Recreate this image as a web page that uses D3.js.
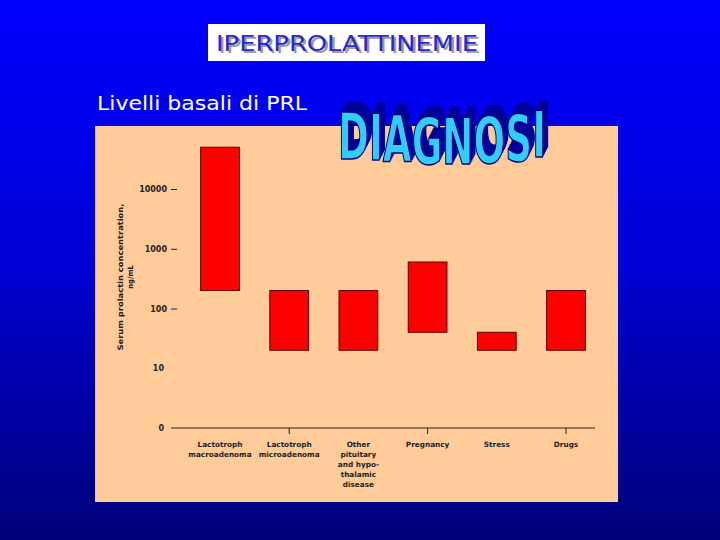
<!DOCTYPE html>
<html>
<head>
<meta charset="utf-8">
<script src="https://cdn.jsdelivr.net/npm/d3@7"></script>
<style>
    body { margin: 0; background: #000080; }
    svg { display: block; }
</style>
</head>
<body>
<div id="chart"></div>
<script>
/*
 * Slide "IPERPROLATTINEMIE": basal PRL ranges per cause (log scale),
 * floating bars from low to high value.
 */

// categories, split in label lines
var categories = ["Lactotroph macroadenoma", "Lactotroph microadenoma",
    "Other pituitary and hypothalamic disease", "Pregnancy", "Stress", "Drugs"];
var categoryLines = [
    ["Lactotroph", "macroadenoma"],
    ["Lactotroph", "microadenoma"],
    ["Other", "pituitary", "and hypo-", "thalamic", "disease"],
    ["Pregnancy"],
    ["Stress"],
    ["Drugs"]
];
// ng/mL, low and high end of each bar
var lowValues = [200, 20, 20, 40, 20, 20];
var highValues = [50000, 200, 200, 600, 40, 200];
// y ticks (the "0" is drawn one decade under 10)
var yTicks = [1, 10, 100, 1000, 10000];
var yTickLabels = ["0", "10", "100", "1000", "10000"];
var diagnosiLetters = ["D", "I", "A", "G", "N", "O", "S", "I"];
var diagnosiWave = [0, 1, 3, 5, 5, 4, 2, -2];

var width = 720, height = 540;

var svg = d3.select("#chart")
        .append("svg")
        .attr("width", width)
        .attr("height", height);

var defs = svg.append("defs");

// background gradient
var grad = defs.append("linearGradient")
        .attr("id", "bg")
        .attr("x1", 0).attr("y1", 0)
        .attr("x2", 0).attr("y2", 1);
grad.append("stop").attr("offset", "0").attr("stop-color", "#0000ff");
grad.append("stop").attr("offset", "0.48").attr("stop-color", "#0000d6");
grad.append("stop").attr("offset", "1").attr("stop-color", "#00007a");

// extrusion filter for the word art (dark copies shifted up-right)
var ext = defs.append("filter")
        .attr("id", "extrude")
        .attr("x", "-10%").attr("y", "-40%")
        .attr("width", "120%").attr("height", "160%");
ext.append("feFlood").attr("flood-color", "#00009a").attr("result", "dark");
ext.append("feComposite")
        .attr("in", "dark").attr("in2", "SourceAlpha")
        .attr("operator", "in").attr("result", "shape");
var offs = [[1, -2], [2, -4], [3, -6], [4, -8], [4.5, -10]];
offs.forEach(function (o, i) {
    ext.append("feOffset")
            .attr("in", "shape")
            .attr("dx", o[0]).attr("dy", o[1])
            .attr("result", "o" + i);
});
var merge = ext.append("feMerge");
offs.slice().reverse().forEach(function (o, i) {
    merge.append("feMergeNode").attr("in", "o" + (offs.length - 1 - i));
});
merge.append("feMergeNode").attr("in", "SourceGraphic");

svg.append("rect")
        .attr("width", width)
        .attr("height", height)
        .attr("fill", "url(#bg)");

// title box
svg.append("rect")
        .attr("x", 208)
        .attr("y", 24)
        .attr("width", 277)
        .attr("height", 37)
        .attr("fill", "#ffffff");
svg.append("text")
        .attr("x", 216)
        .attr("y", 51)
        .attr("textLength", 262)
        .attr("lengthAdjust", "spacingAndGlyphs")
        .attr("font-family", "DejaVu Sans")
        .attr("font-size", 22)
        .attr("fill", "#2828c8")
        .style("text-shadow", "2px 2px 0 #9999aa")
        .text("IPERPROLATTINEMIE");

// subtitle
svg.append("text")
        .attr("x", 97)
        .attr("y", 110)
        .attr("textLength", 210)
        .attr("lengthAdjust", "spacingAndGlyphs")
        .attr("font-family", "DejaVu Sans")
        .attr("font-size", 20)
        .attr("fill", "#ffffff")
        .text("Livelli basali di PRL");

// chart panel
svg.append("rect")
        .attr("x", 95)
        .attr("y", 126)
        .attr("width", 523)
        .attr("height", 376)
        .attr("fill", "#ffcc99");

// scales
var x = d3.scaleBand()
        .domain(categories)
        .range([185.4, 600.6])
        .paddingInner(0.44)
        .paddingOuter(0.22);
var y = d3.scaleLog()
        .domain([1, 10000])
        .range([428, 189]);

// y axis
var yAxis = svg.append("g")
        .attr("transform", "translate(177,0)")
        .call(d3.axisLeft(y)
                .tickValues(yTicks)
                .tickFormat(function (d, i) {
                    return yTickLabels[i];
                })
                .tickSize(6)
                .tickPadding(4));
yAxis.select(".domain").remove();
yAxis.selectAll(".tick line")
        .attr("stroke", "#222")
        .attr("display", function (d) {
            return d < 100 ? "none" : null;
        });
yAxis.selectAll(".tick text")
        .attr("font-family", "DejaVu Sans")
        .attr("font-weight", "bold")
        .attr("font-size", 8)
        .attr("fill", "#222")
        .attr("dx", function (d) {
            return d < 100 ? -3 : 0;
        });

// y title
var yTitle = svg.append("text")
        .attr("transform", "translate(123,277) rotate(-90)")
        .attr("text-anchor", "middle")
        .attr("font-family", "DejaVu Sans Condensed")
        .attr("font-weight", "bold")
        .attr("font-size", 7.5)
        .attr("fill", "#222");
yTitle.append("tspan")
        .attr("x", 0)
        .attr("y", 0)
        .attr("textLength", 147)
        .attr("lengthAdjust", "spacingAndGlyphs")
        .text("Serum prolactin concentration,");
yTitle.append("tspan")
        .attr("x", 0)
        .attr("y", 10)
        .text("ng/mL");

// x axis
svg.append("line")
        .attr("x1", 171)
        .attr("x2", 595)
        .attr("y1", 428)
        .attr("y2", 428)
        .attr("stroke", "#222")
        .attr("stroke-width", 1);
var xAxis = svg.append("g")
        .attr("transform", "translate(0,428)")
        .call(d3.axisBottom(x)
                .tickValues([categories[1], categories[3], categories[5]])
                .tickFormat("")
                .tickSize(6));
xAxis.select(".domain").remove();
xAxis.selectAll(".tick line").attr("stroke", "#222");

// category labels
var labels = svg.selectAll("text.cat")
        .data(categories)
        .enter()
        .append("text")
        .attr("class", "cat")
        .attr("text-anchor", "middle")
        .attr("font-family", "DejaVu Sans")
        .attr("font-weight", "bold")
        .attr("font-size", 7.3)
        .attr("fill", "#222");
labels.selectAll("tspan")
        .data(function (d, i) {
            return categoryLines[i].map(function (t) {
                return {cat: d, text: t};
            });
        })
        .enter()
        .append("tspan")
        .attr("x", function (d) {
            return x(d.cat) + x.bandwidth() / 2;
        })
        .attr("y", function (d, j) {
            return 447 + j * 10;
        })
        .text(function (d) {
            return d.text;
        });

// floating bars
svg.selectAll("rect.bar")
        .data(categories)
        .enter()
        .append("rect")
        .attr("class", "bar")
        .attr("x", function (d) {
            return x(d);
        })
        .attr("width", x.bandwidth())
        .attr("y", function (d, i) {
            return y(highValues[i]);
        })
        .attr("height", function (d, i) {
            return y(lowValues[i]) - y(highValues[i]);
        })
        .attr("fill", "#ff0000")
        .attr("stroke", "#5a0000")
        .attr("stroke-width", 1);

// "DIAGNOSI" word art
var art = svg.append("text")
        .attr("x", 338)
        .attr("y", 159)
        .attr("textLength", 208)
        .attr("lengthAdjust", "spacingAndGlyphs")
        .attr("font-family", "DejaVu Sans Condensed")
        .attr("font-weight", "bold")
        .attr("font-size", 64)
        .attr("fill", "#33ccff")
        .attr("stroke", "#00007a")
        .attr("stroke-width", 1.5)
        .attr("stroke-linejoin", "round")
        .attr("filter", "url(#extrude)");
art.selectAll("tspan")
        .data(diagnosiLetters)
        .enter()
        .append("tspan")
        .attr("dy", function (d, i) {
            return i === 0 ? diagnosiWave[0] : diagnosiWave[i] - diagnosiWave[i - 1];
        })
        .text(function (d) {
            return d;
        });
</script>
</body>
</html>
